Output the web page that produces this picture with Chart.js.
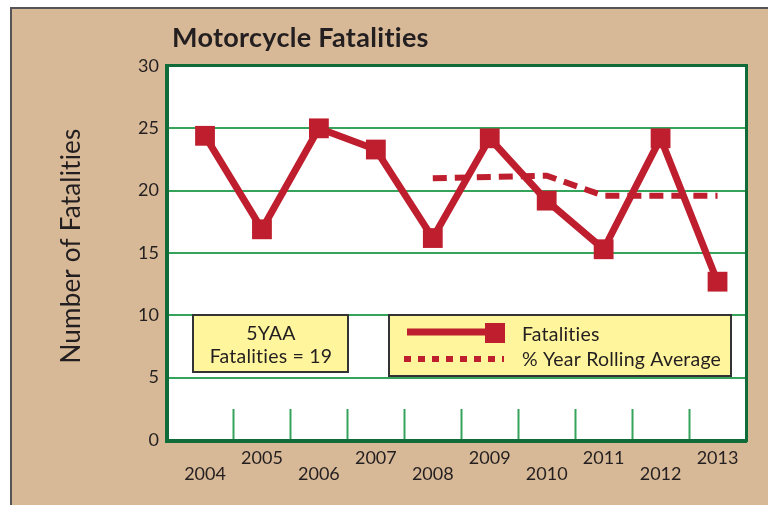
<!DOCTYPE html>
<html>
<head>
<meta charset="utf-8">
<script src="https://cdn.jsdelivr.net/npm/chart.js@4.4.1/dist/chart.umd.min.js"></script>
<style>
  html, body { margin: 0; padding: 0; background: #ffffff; }
  #frame {
    position: absolute; left: 10px; top: 7px; width: 758px; height: 498px;
    background: #d8b997; border-left: 2px solid #555; border-top: 2px solid #555;
    box-sizing: border-box;
  }
  #wrap { position: absolute; left: 0; top: 0; width: 768px; height: 505px; }
</style>
</head>
<body>
<div id="frame"></div>
<div id="wrap"><canvas id="chart" width="768" height="505"></canvas></div>
<script>
// years along the bottom
const years = [2004, 2005, 2006, 2007, 2008, 2009, 2010, 2011, 2012, 2013];
// fatalities per year
const fatalities = [24.4, 16.9, 25.0, 23.3, 16.2, 24.2, 19.2, 15.3, 24.2, 12.7];
// rolling average (starts 2008)
const avgYears = [2008, 2009, 2010, 2011, 2012, 2013];
const rollingAvg = [21.0, 21.1, 21.2, 19.6, 19.6, 19.6];
// y ticks
const yTicks = [0, 5, 10, 15, 20, 25, 30];

const RED = '#be1e2d';
const DARK_GREEN = '#0f6b38';
const GRID_GREEN = '#35a45a';
const TEXT = '#231f20';
const FONT = 'Lato, "Open Sans", sans-serif';

// white plot area + frame + little tick marks + boxes/titles
const decor = {
  id: 'decor',
  beforeDraw(chart) {
    const a = chart.chartArea;
    const ctx = chart.ctx;
    ctx.save();
    ctx.fillStyle = '#ffffff';
    ctx.fillRect(a.left, a.top, a.right - a.left, a.bottom - a.top);
    ctx.restore();
  },
  afterDatasetsDraw(chart) {
    const a = chart.chartArea;
    const ctx = chart.ctx;
    const x = chart.scales.x;
    ctx.save();
    // no "ti" ligatures
    ctx.letterSpacing = '0.2px';
    // short marks between the years
    ctx.strokeStyle = GRID_GREEN;
    ctx.lineWidth = 2;
    years.forEach(function(y) {
      const px = Math.round(x.getPixelForValue(y + 0.5)) + 0.5;
      ctx.beginPath();
      ctx.moveTo(px, a.bottom);
      ctx.lineTo(px, a.bottom - 31);
      ctx.stroke();
    });
    // frame
    ctx.strokeStyle = DARK_GREEN;
    ctx.lineWidth = 3;
    ctx.strokeRect(a.left - 0.5, a.top - 0.5, a.right - a.left + 1, a.bottom - a.top + 1);
    ctx.lineWidth = 4;
    ctx.beginPath();
    ctx.moveTo(a.left - 1, a.top - 2);
    ctx.lineTo(a.left - 1, a.bottom + 1);
    ctx.lineTo(a.right + 1, a.bottom + 1);
    ctx.stroke();

    // 5YAA box
    ctx.fillStyle = '#fff59d';
    ctx.strokeStyle = '#333';
    ctx.lineWidth = 2;
    ctx.fillRect(193, 315, 155, 57);
    ctx.strokeRect(193, 315, 155, 57);
    ctx.fillStyle = TEXT;
    ctx.font = '19.5px ' + FONT;
    ctx.textAlign = 'center';
    ctx.textBaseline = 'middle';
    ctx.fillText('5YAA', 271, 334);
    ctx.fillText('Fatalities = 19', 271, 357);

    // legend box
    ctx.fillStyle = '#fff59d';
    ctx.fillRect(389, 315, 342, 61);
    ctx.strokeRect(389, 315, 342, 61);
    ctx.strokeStyle = RED;
    ctx.lineWidth = 7;
    ctx.beginPath();
    ctx.moveTo(407, 332);
    ctx.lineTo(495, 332);
    ctx.stroke();
    ctx.fillStyle = RED;
    ctx.fillRect(485, 323, 20, 20);
    ctx.lineWidth = 6;
    ctx.setLineDash([7, 7]);
    ctx.beginPath();
    ctx.moveTo(404, 359);
    ctx.lineTo(504, 359);
    ctx.stroke();
    ctx.setLineDash([]);
    ctx.fillStyle = TEXT;
    ctx.textAlign = 'left';
    ctx.fillText('Fatalities', 522, 335);
    ctx.fillText('% Year Rolling Average', 522, 360);

    // title
    ctx.font = 'bold 27px ' + FONT;
    ctx.letterSpacing = '0.3px';
    ctx.textBaseline = 'alphabetic';
    ctx.fillText('Motorcycle Fatalities', 172, 47);

    // y axis label
    ctx.letterSpacing = '0.2px';
    ctx.translate(72, 246);
    ctx.rotate(-Math.PI / 2);
    ctx.textAlign = 'center';
    ctx.textBaseline = 'middle';
    ctx.font = '26px ' + FONT;
    ctx.fillText('Number of Fatalities', 0, 0);
    ctx.restore();
  }
};

const ctx = document.getElementById('chart').getContext('2d');
const chart = new Chart(ctx, {
  type: 'line',
  data: {
    datasets: [
      {
        label: 'Fatalities',
        data: years.map((y, i) => ({ x: y, y: fatalities[i] })),
        borderColor: RED,
        backgroundColor: RED,
        borderWidth: 7,
        pointStyle: 'rect',
        pointRadius: 14,
        pointHoverRadius: 14,
        pointBorderWidth: 0,
        tension: 0
      },
      {
        label: '% Year Rolling Average',
        data: avgYears.map((y, i) => ({ x: y, y: rollingAvg[i] })),
        borderColor: RED,
        borderWidth: 6,
        borderDash: [14, 8],
        pointRadius: 0,
        tension: 0
      }
    ]
  },
  options: {
    responsive: false,
    animation: false,
    layout: { padding: { left: 0, top: 66, right: 22, bottom: 0 } },
    plugins: {
      legend: { display: false },
      title: { display: false },
      tooltip: { enabled: false }
    },
    scales: {
      x: {
        type: 'linear',
        min: 2003.35,
        max: 2013.5,
        afterBuildTicks: function(axis) { axis.ticks = years.map(v => ({ value: v })); },
        afterFit: function(axis) { axis.height = 65; },
        grid: { display: false },
        border: { display: false },
        ticks: {
          maxRotation: 0,
          autoSkip: false,
          padding: 3,
          color: TEXT,
          font: { family: FONT, size: 18, lineHeight: 0.85 },
          callback: function(v) { return v % 2 === 0 ? ['', String(v)] : String(v); }
        }
      },
      y: {
        min: 0,
        max: 30,
        afterBuildTicks: function(axis) { axis.ticks = yTicks.map(v => ({ value: v })); },
        afterFit: function(axis) { axis.width = 168; },
        grid: { color: GRID_GREEN, lineWidth: 2, drawTicks: false },
        border: { display: false },
        ticks: {
          padding: 9,
          color: TEXT,
          font: { family: FONT, size: 18 }
        }
      }
    }
  },
  plugins: [decor]
});
</script>
</body>
</html>
